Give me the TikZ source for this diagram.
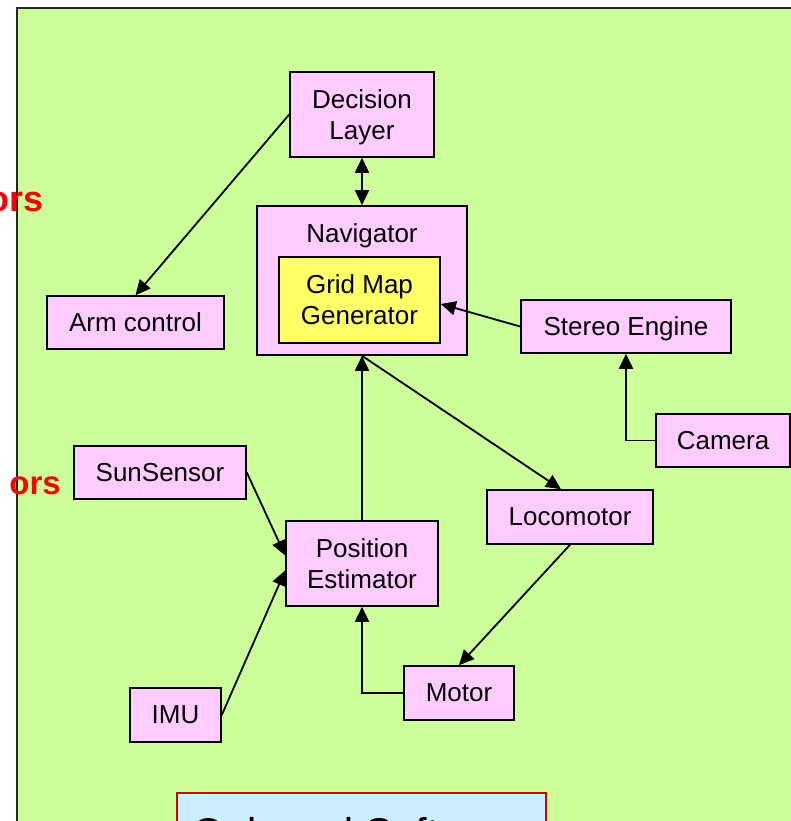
\documentclass[tikz,border=0pt]{standalone}
\usepackage{fontspec}
\setmainfont{Liberation Sans}
\usepackage{xcolor}
\usetikzlibrary{arrows.meta,calc}
\definecolor{PanelGreen}{HTML}{CCFF99}
\definecolor{ModulePink}{HTML}{FFCCFF}
\definecolor{MapYellow}{HTML}{FFFF66}
\definecolor{BoardBlue}{HTML}{CCECFF}
\definecolor{BoardRed}{HTML}{D40000}
\definecolor{LabelRed}{HTML}{FF0000}
\newcommand{\modbox}[4]{%
  \node[draw=black, line width=1.6pt, fill=#1, inner sep=0pt, align=center,
        font=\fontsize{26}{31}\selectfont, #4] (#2) {#3};}

\begin{document}
\begin{tikzpicture}[x=1pt, y=-1pt, >={Triangle[length=15pt,width=14pt]},
    wire/.style={line width=1.8pt},
    sidelabel/.style={anchor=base east, inner sep=0pt, text=LabelRed}]
    \useasboundingbox (0,0) rectangle (791,821);
    % panel
    \fill[PanelGreen] (17,8) rectangle (800,830);
    \draw[line width=2.2pt, black!85] (17,830) -- (17,8) -- (800,8);
    \node[sidelabel, font=\fontsize{36}{40}\selectfont\bfseries] (actlabel) at (44,211) {ors};
    \node[sidelabel, font=\fontsize{33}{38}\selectfont\bfseries] (senlabel) at (61,494) {ors};
    % modules
    \modbox{ModulePink}{decision}{Decision\\Layer}{at={(362,114.5)}, minimum width=144pt, minimum height=85pt, text depth=0pt}
    \modbox{ModulePink}{navigator}{}{at={(362,280.5)}, minimum width=210pt, minimum height=149pt,
      label={[anchor=north, inner sep=0pt, yshift=-18pt, font=\fontsize{26}{31}\selectfont]north:Navigator}}
    \modbox{MapYellow}{gridmap}{Grid Map\\Generator}{at={(359.5,300)}, minimum width=161pt, minimum height=86pt}
    \modbox{ModulePink}{stereo}{Stereo Engine}{at={(626,326.5)}, minimum width=210pt, minimum height=53pt, text depth=0pt}
    \modbox{ModulePink}{camera}{Camera}{at={(723,440.5)}, minimum width=134pt, minimum height=53pt}
    \modbox{ModulePink}{armctrl}{Arm control}{at={(135.5,322.5)}, minimum width=177pt, minimum height=53pt}
    \modbox{ModulePink}{sunsensor}{SunSensor}{at={(160,472.5)}, minimum width=172pt, minimum height=53pt}
    \modbox{ModulePink}{posest}{Position\\Estimator}{at={(362,563.5)}, minimum width=152pt, minimum height=85pt}
    \modbox{ModulePink}{imu}{IMU}{at={(175.5,715)}, minimum width=91pt, minimum height=54pt}
    \modbox{ModulePink}{locomotor}{Locomotor}{at={(570,517)}, minimum width=166pt, minimum height=54pt}
    \modbox{ModulePink}{motor}{Motor}{at={(459,693)}, minimum width=110pt, minimum height=54pt}
    % onboard software box
    \node[draw=BoardRed, line width=1.6pt, fill=BoardBlue, anchor=north, inner sep=0pt,
          minimum width=369pt, minimum height=60pt] (onboard) at (361.5,792) {};
    \node[anchor=north west, inner sep=0pt, font=\fontsize{41.5}{48}\selectfont] (onboardtitle) at (192,817.5) {Onboard Software};
    % connectors
    \draw[<->,wire] (decision) -- (navigator);
    \draw[->,wire] (decision.west) -- (armctrl.north);
    \draw[->,wire] (stereo.west) -- ($(gridmap.east)+(0,4)$);
    \draw[->,wire] (camera.west) -| (stereo.south);
    \draw[->,wire] (sunsensor.east) -- ($(posest.west)+(0,-8)$);
    \draw[->,wire] (imu.east) -- ($(posest.west)+(0,7)$);
    \draw[->,wire] (motor.west) -| (posest.south);
    \draw[->,wire] (posest.north) -- (navigator.south);
    \draw[->,wire] (navigator.south) -- ($(locomotor.north)+(-9,0)$);
    \draw[->,wire] (locomotor.south) -- (motor.north);
\end{tikzpicture}
\end{document}
